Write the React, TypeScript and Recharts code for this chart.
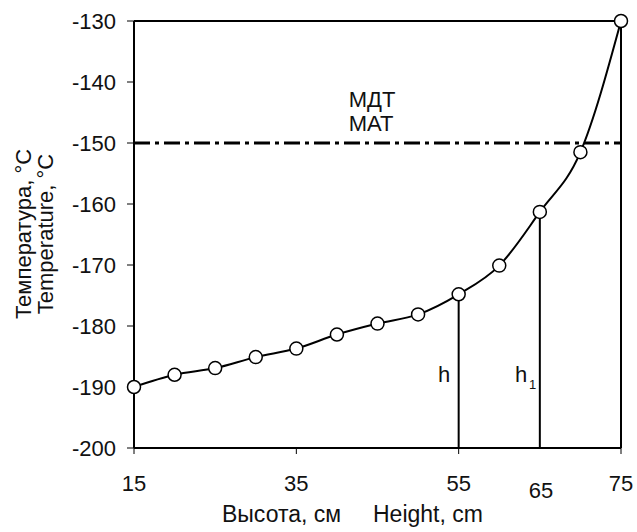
import { LineChart, Line, XAxis, YAxis, ReferenceLine } from "recharts";

const heights = [15, 20, 25, 30, 35, 40, 45, 50, 55, 60, 65, 70, 75];
const temps = [-190, -188, -186.9, -185.1, -183.7, -181.4, -179.6, -178.1, -174.8, -170.1, -161.3, -151.5, -130];
const xTicks = [15, 35, 55, 75];
const yTicks = [-200, -190, -180, -170, -160, -150, -140, -130];
const mdtLevel = -150;
const hMarks = [55, 65];

const data = heights.map((h, i) => ({ h, t: temps[i] }));
const tempAt = (h: number) => temps[heights.indexOf(h)];

const font = "'Liberation Sans', Arial, sans-serif";
const fs = 22;

export default function App() {
  return (
    <div style={{ position: "absolute", left: 0, top: 0, width: 637, height: 532, fontFamily: font, background: "#fff" }}>
      <LineChart width={637} height={532} data={data} margin={{ top: 21, right: 16, bottom: 0, left: 0 }}>
        <XAxis dataKey="h" type="number" domain={[15, 75]} ticks={xTicks} height={84} tickSize={6} tickMargin={21}
          axisLine={{ stroke: "#000", strokeWidth: 2 }} tickLine={{ stroke: "#000" }}
          tick={{ fill: "#111", fontSize: fs, fontFamily: font }} />
        <YAxis type="number" domain={[-200, -130]} ticks={yTicks} width={134} tickSize={7} tickMargin={11}
          axisLine={{ stroke: "#000", strokeWidth: 2 }} tickLine={{ stroke: "#000" }}
          tick={{ fill: "#111", fontSize: fs, fontFamily: font }} />
        <ReferenceLine y={-130} stroke="#000" strokeWidth={2} />
        <ReferenceLine x={75} stroke="#000" strokeWidth={2} />
        <ReferenceLine y={mdtLevel} stroke="#000" strokeWidth={3} strokeDasharray="16 5 4 5" />
        {hMarks.map(x => (
          <ReferenceLine key={x} segment={[{ x, y: -200 }, { x, y: tempAt(x) }]} stroke="#000" strokeWidth={2} />
        ))}
        <Line dataKey="t" type="monotone" stroke="#000" strokeWidth={2}
          dot={{ r: 6.5, fill: "#fff", stroke: "#000", strokeWidth: 1.5 }} isAnimationActive={false} />
      </LineChart>
      <svg width={637} height={532} style={{ position: "absolute", left: 0, top: 0, pointerEvents: "none" }}
        fontFamily={font} fontSize={fs} fill="#111">
        <text x={372} y={107} textAnchor="middle">МДТ</text>
        <text x={371} y={131} textAnchor="middle">МАТ</text>
        <text x={438} y={382}>h</text>
        <text x={515} y={382}>h</text>
        <text x={529} y={389} fontSize={13}>1</text>
        <text x={541} y={498} textAnchor="middle">65</text>
        <text x={222} y={522} fontSize={23}>Высота, см</text>
        <text x={373} y={522} fontSize={23}>Height, cm</text>
        <text x={31} y={234} textAnchor="middle" transform="rotate(-90 31 234)">Температура, °C</text>
        <text x={53} y={234} textAnchor="middle" transform="rotate(-90 53 234)">Temperature, °C</text>
      </svg>
    </div>
  );
}
